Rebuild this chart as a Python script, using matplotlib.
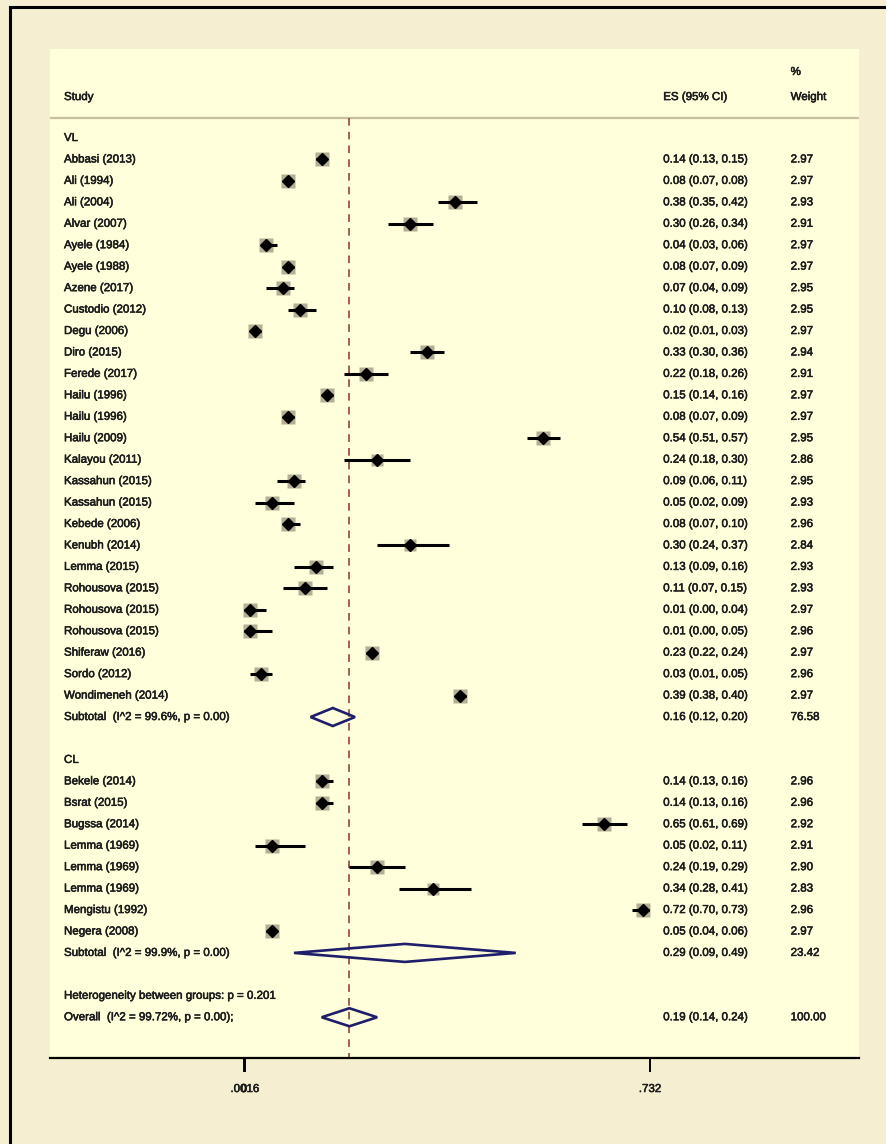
import matplotlib.pyplot as plt
import matplotlib.patheffects as pe
from matplotlib.lines import Line2D
from matplotlib.patches import Polygon
from matplotlib.transforms import blended_transform_factory

plt.rcParams['font.family'] = ['Liberation Sans', 'DejaVu Sans']

# VL studies
vl_study = ['Abbasi (2013)', 'Ali (1994)', 'Ali (2004)', 'Alvar (2007)', 'Ayele (1984)',
            'Ayele (1988)', 'Azene (2017)', 'Custodio (2012)', 'Degu (2006)', 'Diro (2015)',
            'Ferede (2017)', 'Hailu (1996)', 'Hailu (1996)', 'Hailu (2009)', 'Kalayou (2011)',
            'Kassahun (2015)', 'Kassahun (2015)', 'Kebede (2006)', 'Kenubh (2014)', 'Lemma (2015)',
            'Rohousova (2015)', 'Rohousova (2015)', 'Rohousova (2015)', 'Shiferaw (2016)',
            'Sordo (2012)', 'Wondimeneh (2014)']
vl_es = [0.14, 0.08, 0.38, 0.30, 0.04, 0.08, 0.07, 0.10, 0.02, 0.33, 0.22, 0.15, 0.08,
         0.54, 0.24, 0.09, 0.05, 0.08, 0.30, 0.13, 0.11, 0.01, 0.01, 0.23, 0.03, 0.39]
vl_lo = [0.13, 0.07, 0.35, 0.26, 0.03, 0.07, 0.04, 0.08, 0.01, 0.30, 0.18, 0.14, 0.07,
         0.51, 0.18, 0.06, 0.02, 0.07, 0.24, 0.09, 0.07, 0.00, 0.00, 0.22, 0.01, 0.38]
vl_hi = [0.15, 0.08, 0.42, 0.34, 0.06, 0.09, 0.09, 0.13, 0.03, 0.36, 0.26, 0.16, 0.09,
         0.57, 0.30, 0.11, 0.09, 0.10, 0.37, 0.16, 0.15, 0.04, 0.05, 0.24, 0.05, 0.40]
vl_wt = [2.97, 2.97, 2.93, 2.91, 2.97, 2.97, 2.95, 2.95, 2.97, 2.94, 2.91, 2.97, 2.97,
         2.95, 2.86, 2.95, 2.93, 2.96, 2.84, 2.93, 2.93, 2.97, 2.96, 2.97, 2.96, 2.97]
vl_sub = [0.16, 0.12, 0.20, 76.58]
vl_sub_label = 'Subtotal  (I^2 = 99.6%, p = 0.00)'

# CL studies
cl_study = ['Bekele (2014)', 'Bsrat (2015)', 'Bugssa (2014)', 'Lemma (1969)', 'Lemma (1969)',
            'Lemma (1969)', 'Mengistu (1992)', 'Negera (2008)']
cl_es = [0.14, 0.14, 0.65, 0.05, 0.24, 0.34, 0.72, 0.05]
cl_lo = [0.13, 0.13, 0.61, 0.02, 0.19, 0.28, 0.70, 0.04]
cl_hi = [0.16, 0.16, 0.69, 0.11, 0.29, 0.41, 0.73, 0.06]
cl_wt = [2.96, 2.96, 2.92, 2.91, 2.90, 2.83, 2.96, 2.97]
cl_sub = [0.29, 0.09, 0.49, 23.42]
cl_sub_label = 'Subtotal  (I^2 = 99.9%, p = 0.00)'

het_label = 'Heterogeneity between groups: p = 0.201'
overall = [0.19, 0.14, 0.24, 100.00]
overall_label = 'Overall  (I^2 = 99.72%, p = 0.00);'

tick_vals = [0, 0.0016, 0.732]
tick_text = ['0', '.0016', '.732']

OUTER = '#F5EED0'
PANEL = '#FFFFDC'
NAVY = '#1E1E6A'

# row list: (kind, label, es, lo, hi, weight)
rows = [('group', 'VL', None, None, None, None)]
for s, e, l, h, w in zip(vl_study, vl_es, vl_lo, vl_hi, vl_wt):
    rows.append(('study', s, e, l, h, w))
rows.append(('pooled', vl_sub_label, *vl_sub))
rows.append(('blank', '', None, None, None, None))
rows.append(('group', 'CL', None, None, None, None))
for s, e, l, h, w in zip(cl_study, cl_es, cl_lo, cl_hi, cl_wt):
    rows.append(('study', s, e, l, h, w))
rows.append(('pooled', cl_sub_label, *cl_sub))
rows.append(('blank', '', None, None, None, None))
rows.append(('group', het_label, None, None, None, None))
rows.append(('pooled', overall_label, *overall))

fig = plt.figure(figsize=(8.87, 11.44), dpi=100, facecolor=OUTER)
ax = fig.add_axes([50 / 887, 1 - 1058 / 1144, 809 / 887, 1009 / 1144])
ax.set_facecolor(PANEL)
ax.set_xlim(-0.350, 1.109)
ax.set_ylim(42.9, -4.15)

tr = blended_transform_factory(ax.transAxes, ax.transData)
fs = 8.3
tc = '#1c1c1c'
thick = [pe.withStroke(linewidth=0.4, foreground=tc)]


def put(x, y, s):
    ax.text(x, y, s, transform=tr, fontsize=fs, color=tc, va='center', path_effects=thick)


# header
put(0.0173, -1.91, 'Study')
put(0.758, -1.91, 'ES (95% CI)')
put(0.9155, -3.08, '%')
put(0.9155, -1.91, 'Weight')
ax.axhline(-0.93, color='#C8BF9E', lw=1.6, zorder=1)

for r, (kind, label, es, lo, hi, w) in enumerate(rows):
    if kind == 'blank':
        continue
    put(0.0173, r, label)
    if es is None:
        continue
    put(0.758, r, f'{es:.2f} ({lo:.2f}, {hi:.2f})')
    put(0.9155, r, f'{w:.2f}')
    if kind == 'study':
        ax.plot(es, r, marker='s', ms=9.5 * (w / 2.97) ** 0.5, color='#B4AE94',
                mec='none', zorder=2)
        ax.plot([lo, hi], [r, r], color='black', lw=2.2, solid_capstyle='butt', zorder=3)
        ax.plot(es, r, marker='D', ms=6.3, color='black', mec='black', zorder=4)
    else:
        h = 0.42
        ax.add_patch(Polygon([(lo, r), (es, r - h), (hi, r), (es, r + h)], closed=True,
                             facecolor='none', edgecolor=NAVY, lw=1.9, zorder=4))

# overall effect reference line
ax.vlines(overall[0], -0.93, 42.9, colors='#8E3030', linestyles=(0, (5, 4)), lw=1.1, zorder=1)

for side in ['top', 'left', 'right']:
    ax.spines[side].set_visible(False)
ax.spines['bottom'].set_linewidth(1.6)
ax.set_yticks([])
ax.set_xticks(tick_vals)
ax.set_xticklabels(tick_text)
ax.tick_params(axis='x', length=10, width=1.4, pad=8, labelsize=fs, labelcolor=tc)
for t in ax.get_xticklabels():
    t.set_path_effects(thick)

# frame on the left and top
fig.add_artist(Line2D([10 / 887, 10 / 887], [0, 1 - 7 / 1144], color='black', lw=2.2,
                      transform=fig.transFigure))
fig.add_artist(Line2D([10 / 887, 1], [1 - 7 / 1144, 1 - 7 / 1144], color='black', lw=2.2,
                      transform=fig.transFigure))

fig.savefig('out.png', dpi=100, facecolor=OUTER)
